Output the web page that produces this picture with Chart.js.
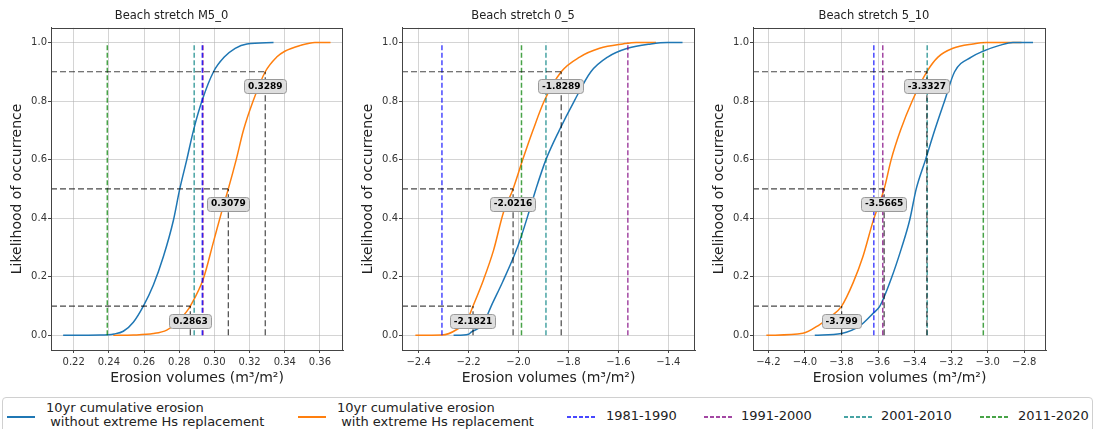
<!DOCTYPE html>
<html>
<head>
<meta charset="utf-8">
<script src="https://cdn.jsdelivr.net/npm/chart.js@4"></script>
<style>
  body { margin:0; background:#fff; width:1096px; height:429px; overflow:hidden; position:relative; font-family:"DejaVu Sans", sans-serif; color:#222; }
  canvas.panel { position:absolute; top:0; }
  #legend { position:absolute; left:2px; top:397px; width:1091px; height:40px; border:1px solid #d0d0d0; border-radius:4px; box-sizing:border-box; }
  .smp { position:absolute; height:2px; width:28px; }
  .lbl { position:absolute; font-size:13px; line-height:14px; white-space:pre; }
</style>
</head>
<body>
<canvas id="c1" class="panel" width="355" height="392" style="left:0px"></canvas>
<canvas id="c2" class="panel" width="356" height="392" style="left:351px"></canvas>
<canvas id="c3" class="panel" width="358" height="392" style="left:702px"></canvas>

<div id="legend"></div>

<script>
// ---- data ----
const quantileLevels = [0.1, 0.5, 0.9];
const yTicks = [0, 0.2, 0.4, 0.6, 0.8, 1.0];
const decadeNames = ['1981-1990', '1991-2000', '2001-2010', '2011-2020'];

// Beach stretch M5_0
const m50WithoutX = [0.214, 0.235, 0.243, 0.2482, 0.2539, 0.2596, 0.2653, 0.2710, 0.2767, 0.2803, 0.2843, 0.2881, 0.2929, 0.2995, 0.3056, 0.3118, 0.3185, 0.3336];
const m50WithoutY = [0, 0.001, 0.005, 0.014, 0.045, 0.1, 0.172, 0.269, 0.393, 0.5, 0.6, 0.7, 0.8, 0.9, 0.95, 0.98, 0.995, 1];
const m50WithX = [0.2425, 0.2539, 0.2653, 0.2729, 0.2786, 0.2843, 0.2863, 0.2938, 0.2995, 0.3045, 0.3079, 0.3124, 0.3165, 0.3220, 0.3289, 0.3354, 0.3400, 0.3489, 0.3571, 0.3660];
const m50WithY = [0, 0.001, 0.006, 0.018, 0.043, 0.082, 0.1, 0.195, 0.32, 0.43, 0.5, 0.6, 0.7, 0.8, 0.9, 0.95, 0.97, 0.99, 1, 1];
const m50Decades = [0.2931, 0.2935, 0.2885, 0.2391];
const m50Quantiles = [0.2863, 0.3079, 0.3289];
const m50QuantileText = ['0.2863', '0.3079', '0.3289'];
const m50Ticks = [0.22, 0.24, 0.26, 0.28, 0.30, 0.32, 0.34, 0.36];

// Beach stretch 0_5
const p05WithoutX = [-2.26, -2.20, -2.1894, -2.1427, -2.1093, -2.0627, -2.016, -1.9893, -1.956, -1.930, -1.890, -1.8367, -1.7767, -1.710, -1.643, -1.563, -1.470, -1.403, -1.343];
const p05WithoutY = [0, 0.004, 0.011, 0.037, 0.1, 0.184, 0.275, 0.337, 0.427, 0.5, 0.6, 0.7, 0.8, 0.9, 0.95, 0.98, 0.995, 1, 1];
const p05WithX = [-2.413, -2.307, -2.247, -2.207, -2.1821, -2.140, -2.100, -2.060, -2.0216, -1.983, -1.942, -1.897, -1.8289, -1.755, -1.675, -1.582, -1.529, -1.449];
const p05WithY = [0, 0.001, 0.02, 0.05, 0.1, 0.19, 0.29, 0.42, 0.5, 0.6, 0.7, 0.8, 0.9, 0.95, 0.98, 0.995, 1, 1];
const p05Decades = [-2.3066, -1.562, -1.890, -1.988];
const p05Quantiles = [-2.1821, -2.0216, -1.8289];
const p05QuantileText = ['-2.1821', '-2.0216', '-1.8289'];
const p05Ticks = [-2.4, -2.2, -2.0, -1.8, -1.6, -1.4];

// Beach stretch 5_10
const p510WithoutX = [-3.946, -3.80, -3.700, -3.627, -3.59, -3.527, -3.472, -3.427, -3.391, -3.34, -3.29, -3.236, -3.181, -3.09, -3.026, -2.935, -2.862, -2.752];
const p510WithoutY = [0, 0.006, 0.032, 0.075, 0.1, 0.195, 0.297, 0.393, 0.5, 0.6, 0.7, 0.8, 0.9, 0.95, 0.97, 0.99, 1, 1];
const p510WithX = [-4.211, -4.011, -3.919, -3.855, -3.799, -3.736, -3.682, -3.627, -3.5665, -3.528, -3.477, -3.413, -3.3327, -3.272, -3.19, -3.08, -3.007, -2.815];
const p510WithY = [0, 0.007, 0.037, 0.066, 0.1, 0.18, 0.27, 0.39, 0.5, 0.6, 0.7, 0.8, 0.9, 0.95, 0.98, 0.995, 1, 1];
const p510Decades = [-3.623, -3.574, -3.331, -3.024];
const p510Quantiles = [-3.799, -3.5665, -3.3327];
const p510QuantileText = ['-3.799', '-3.5665', '-3.3327'];
const p510Ticks = [-4.2, -4.0, -3.8, -3.6, -3.4, -3.2, -3.0, -2.8];

// ---- styling ----
const BLUE = '#1f77b4', ORANGE = '#ff7f0e';
const decadeColors = ['rgba(0,0,255,0.72)', 'rgba(128,0,128,0.72)', 'rgba(0,128,128,0.72)', 'rgba(0,128,0,0.72)'];
const QCOLOR = 'rgba(0,0,0,0.72)';
const DASH = [5, 2.5];
const GRID = 'rgba(176,176,176,0.55)';
const AXIS = '#444';

Chart.defaults.font.family = '"DejaVu Sans", sans-serif';
Chart.defaults.color = '#222';

const xy = (xs, ys) => xs.map((x, i) => ({ x: x, y: ys[i] }));
const fmt = (v, d) => (v < 0 ? '\u2212' : '') + Math.abs(v).toFixed(d);

// box around the plot area
const framePlugin = {
  id: 'frame',
  afterDatasetsDraw(chart) {
    const { ctx, chartArea: a } = chart;
    ctx.save();
    ctx.strokeStyle = AXIS;
    ctx.lineWidth = 1;
    ctx.strokeRect(Math.round(a.left) + 0.5, Math.round(a.top) + 0.5, Math.round(a.right - a.left) - 1, Math.round(a.bottom - a.top));
    ctx.restore();
  }
};

// rounded label boxes at (value, level - 0.05)
function makeBoxPlugin(values, texts) {
  return {
    id: 'qboxes',
    afterDraw(chart) {
      const { ctx, scales: { x, y } } = chart;
      ctx.save();
      ctx.font = 'bold 9px "DejaVu Sans"';
      ctx.textAlign = 'center';
      ctx.textBaseline = 'middle';
      values.forEach((v, i) => {
        const px = x.getPixelForValue(v);
        const py = y.getPixelForValue(quantileLevels[i] - 0.05);
        const w = ctx.measureText(texts[i]).width + 7, h = 14;
        ctx.beginPath();
        ctx.roundRect(Math.round(px - w / 2) + 0.5, Math.round(py - h / 2) + 0.5, Math.round(w), h, 3);
        ctx.fillStyle = '#dedede';
        ctx.fill();
        ctx.strokeStyle = '#9a9a9a';
        ctx.lineWidth = 1;
        ctx.stroke();
        ctx.fillStyle = '#000';
        ctx.fillText(texts[i], px, py + 0.5);
      });
      ctx.restore();
    }
  };
}

function buildPanel(id, p) {
  const datasets = [];
  datasets.push({ data: xy(p.withoutX, p.withoutY), borderColor: BLUE, borderWidth: 1.5, cubicInterpolationMode: 'monotone', order: 3 });
  datasets.push({ data: xy(p.withX, p.withY), borderColor: ORANGE, borderWidth: 1.5, cubicInterpolationMode: 'monotone', order: 3 });
  p.decades.forEach((v, i) => {
    datasets.push({ data: [{ x: v, y: 0 }, { x: v, y: 1 }], borderColor: decadeColors[i], borderWidth: 1.5, borderDash: DASH, order: 2 });
  });
  p.quantiles.forEach((v, i) => {
    const q = quantileLevels[i];
    datasets.push({ data: [{ x: p.xMin, y: q }, { x: v, y: q }], borderColor: QCOLOR, borderWidth: 1.2, borderDash: [6, 3], order: 1 });
    datasets.push({ data: [{ x: v, y: 0 }, { x: v, y: q }], borderColor: QCOLOR, borderWidth: 1.2, borderDash: [6, 3], order: 1 });
  });

  new Chart(document.getElementById(id), {
    type: 'scatter',
    data: { datasets: datasets },
    options: {
      responsive: false,
      animation: false,
      layout: { padding: { left: 0, right: p.padRight, top: 0, bottom: 0 } },
      elements: { point: { radius: 0 }, line: { fill: false } },
      datasets: { scatter: { showLine: true } },
      plugins: {
        legend: { display: false },
        tooltip: { enabled: false },
        title: { display: true, text: p.title, font: { size: 11.5, weight: 'normal' }, color: '#222', padding: { top: 9, bottom: 5 } }
      },
      scales: {
        x: {
          type: 'linear', min: p.xMin, max: p.xMax,
          afterBuildTicks: s => { s.ticks = p.ticks.map(v => ({ value: v })); },
          afterFit: s => { s.height = 42; },
          ticks: { callback: v => fmt(v, p.dec), font: { size: 10 }, color: '#333', padding: 3, maxRotation: 0, autoSkip: false },
          grid: { color: GRID, tickColor: AXIS, tickLength: 3 },
          border: { color: AXIS },
          title: { display: true, text: 'Erosion volumes (m\u00b3/m\u00b2)', font: { size: 14 }, color: '#222', padding: { top: 0, bottom: 5 } }
        },
        y: {
          type: 'linear', min: -0.05, max: 1.05,
          afterBuildTicks: s => { s.ticks = yTicks.map(v => ({ value: v })); },
          afterFit: s => { s.width = 51; },
          ticks: { callback: v => v.toFixed(1), font: { size: 10 }, color: '#333', padding: 1 },
          grid: { color: GRID, tickColor: AXIS, tickLength: 3 },
          border: { color: AXIS },
          title: { display: true, text: 'Likelihood of occurrence', font: { size: 14 }, color: '#222', padding: { top: 9, bottom: 0 } }
        }
      }
    },
    plugins: [framePlugin, makeBoxPlugin(p.quantiles, p.quantileText)]
  });
}

buildPanel('c1', { title: 'Beach stretch M5_0', withoutX: m50WithoutX, withoutY: m50WithoutY, withX: m50WithX, withY: m50WithY,
  decades: m50Decades, quantiles: m50Quantiles, quantileText: m50QuantileText, ticks: m50Ticks, dec: 2, xMin: 0.2071, xMax: 0.3731, padRight: 12 });
buildPanel('c2', { title: 'Beach stretch 0_5', withoutX: p05WithoutX, withoutY: p05WithoutY, withX: p05WithX, withY: p05WithY,
  decades: p05Decades, quantiles: p05Quantiles, quantileText: p05QuantileText, ticks: p05Ticks, dec: 1, xMin: -2.4666, xMax: -1.293, padRight: 12 });
buildPanel('c3', { title: 'Beach stretch 5_10', withoutX: p510WithoutX, withoutY: p510WithoutY, withX: p510WithX, withY: p510WithY,
  decades: p510Decades, quantiles: p510Quantiles, quantileText: p510QuantileText, ticks: p510Ticks, dec: 1, xMin: -4.284, xMax: -2.681, padRight: 14 });

// ---- legend (html) ----
const legendItems = [
  { text: '10yr cumulative erosion\n without extreme Hs replacement', color: BLUE, dashed: false, sx: 4, tx: 43 },
  { text: '10yr cumulative erosion\n with extreme Hs replacement', color: ORANGE, dashed: false, sx: 295, tx: 334 },
  { text: decadeNames[0], color: decadeColors[0], dashed: true, sx: 564, tx: 603 },
  { text: decadeNames[1], color: decadeColors[1], dashed: true, sx: 701, tx: 738 },
  { text: decadeNames[2], color: decadeColors[2], dashed: true, sx: 841, tx: 878 },
  { text: decadeNames[3], color: decadeColors[3], dashed: true, sx: 977, tx: 1015 }
];
const legend = document.getElementById('legend');
legendItems.forEach(it => {
  const s = document.createElement('div');
  s.className = 'smp';
  s.style.left = it.sx + 'px';
  s.style.top = '18px';
  s.style.background = it.dashed
    ? `repeating-linear-gradient(90deg, ${it.color} 0 4px, transparent 4px 6px)`
    : it.color;
  legend.appendChild(s);
  const t = document.createElement('div');
  t.className = 'lbl';
  t.style.left = it.tx + 'px';
  t.style.top = it.text.includes('\n') ? '3px' : '11px';
  t.textContent = it.text;
  legend.appendChild(t);
});
</script>
</body>
</html>
